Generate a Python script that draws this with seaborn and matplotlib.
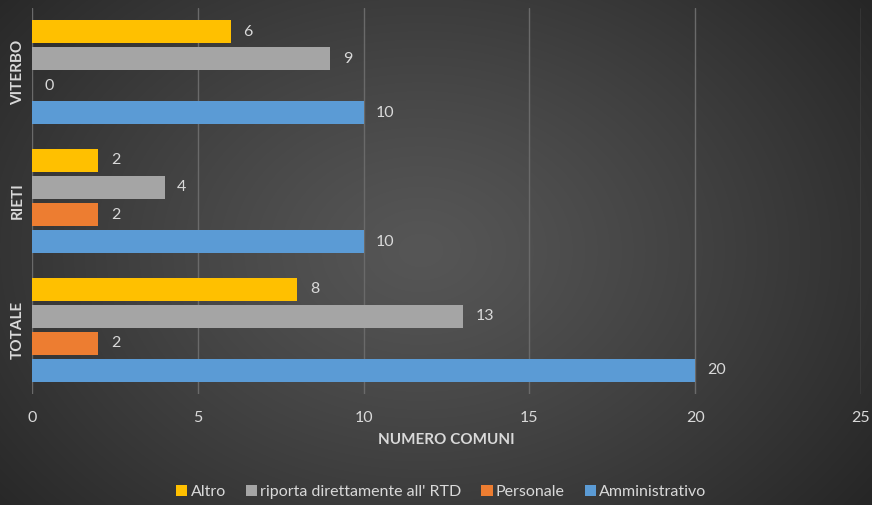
import numpy as np
import pandas as pd
import matplotlib
matplotlib.use("Agg")
import matplotlib.pyplot as plt
import seaborn as sns

categories = ["VITERBO", "RIETI", "TOTALE"]
series = ["Altro", "riporta direttamente all' RTD", "Personale", "Amministrativo"]
altro = [6, 2, 8]
riporta = [9, 4, 13]
personale = [0, 2, 2]
amministrativo = [10, 10, 20]
colors = ["#FFC000", "#A5A5A5", "#ED7D31", "#5B9BD5"]
xticks = [0, 5, 10, 15, 20, 25]

rows = []
for s, vals in zip(series, [altro, riporta, personale, amministrativo]):
    for c, v in zip(categories, vals):
        rows.append({"Provincia": c, "Ruolo": s, "Comuni": v})
df = pd.DataFrame(rows)

sns.set_theme(style="dark")
plt.rcParams['font.family'] = ['Lato', 'DejaVu Sans']

fig = plt.figure(figsize=(8.72, 5.05), dpi=100)

# radial gradient background
bg = fig.add_axes([0, 0, 1, 1], zorder=-10)
yy, xx = np.mgrid[0:505, 0:872]
cx, cy = 420, 250
r = np.sqrt(((xx - cx) / 560.0) ** 2 + ((yy - cy) / 420.0) ** 2)
r = np.clip(r, 0, 1)
c0, c1 = 0x56 / 255, 0x26 / 255
val = c0 + (c1 - c0) * r ** 1.2
img = np.dstack([val, val, val])
bg.imshow(img, aspect="auto", extent=[0, 1, 0, 1])
bg.axis("off")

ax = fig.add_axes([32 / 872, 1 - 394 / 505, (861 - 32) / 872, (394 - 8) / 505])
ax.patch.set_alpha(0)

sns.barplot(data=df, y="Provincia", x="Comuni", hue="Ruolo", order=categories,
            hue_order=series, palette=colors, orient="h", width=0.84, gap=0.15,
            saturation=1, ax=ax, legend=True, zorder=3, linewidth=0, edgecolor="none")

for cont in ax.containers:
    ax.bar_label(cont, padding=9, color="#D9D9D9", fontsize=11.5)

ax.set_xlim(0, 25)
ax.set_ylim(2.5, -0.5)
ax.set_xticks(xticks)
ax.set_xticklabels([str(t) for t in xticks], color="#D9D9D9", fontsize=11.5)
ax.tick_params(axis="x", length=0, pad=12)
ax.tick_params(axis="y", length=0, pad=5)
for lbl in ax.get_yticklabels():
    lbl.set_rotation(90)
    lbl.set_va("center")
    lbl.set_color("#D9D9D9")
    lbl.set_fontweight("bold")
    lbl.set_fontsize(11)
ax.set_ylabel("")
ax.set_xlabel("NUMERO COMUNI", color="#D9D9D9", fontweight="bold", fontsize=11, labelpad=6)
ax.grid(axis="x", color="#6a6a6a", linewidth=1, zorder=0)
ax.grid(axis="y", visible=False)
for sp in ax.spines.values():
    sp.set_visible(False)

handles, labels = ax.get_legend_handles_labels()
ax.legend_.remove()
leg = fig.legend(handles, labels, loc="center", bbox_to_anchor=(0.506, 1 - 492 / 505),
                 ncol=4, frameon=False, fontsize=11.5, handlelength=0.7, handleheight=0.7,
                 handletextpad=0.2, columnspacing=1.25, labelcolor="#D9D9D9")

fig.savefig("out.png", dpi=100)
